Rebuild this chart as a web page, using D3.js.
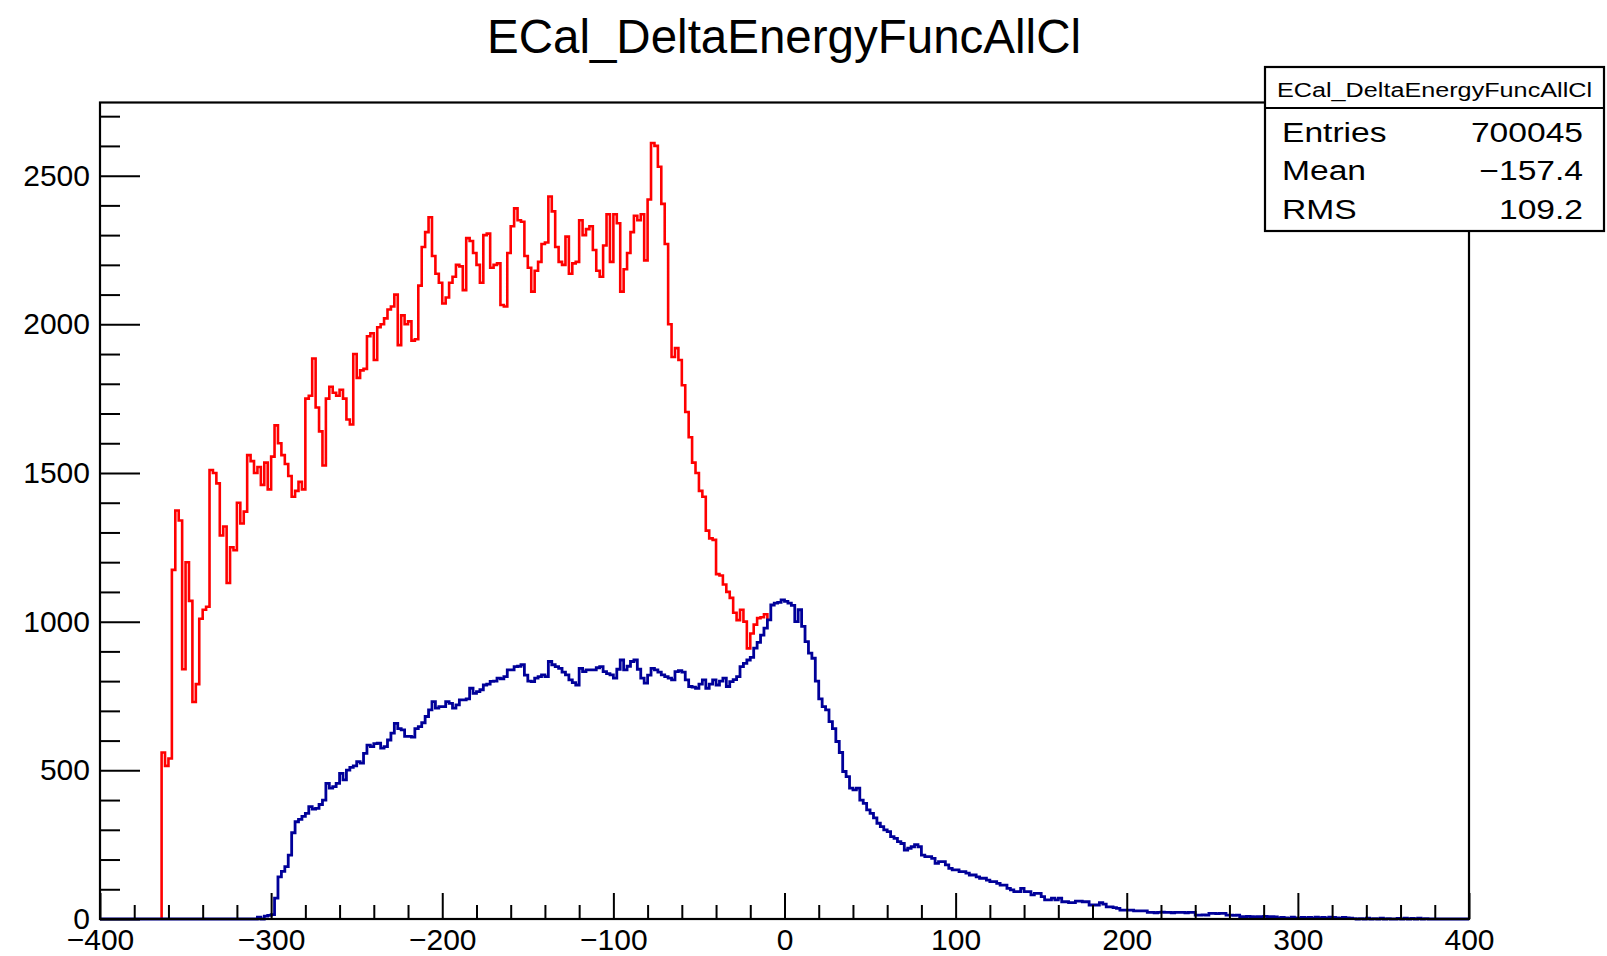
<!DOCTYPE html>
<html lang="en">

<head>
    <meta charset="UTF-8">
    <script src="https://cdn.jsdelivr.net/npm/d3@7"></script>
    <title>ECal_DeltaEnergyFuncAllCl</title>
    <style>
        body { margin: 0; background: #fff; }
        text { font-family: "Liberation Sans", Arial, Helvetica, sans-serif; fill: #000; }
    </style>
</head>

<body>
    <div id="chart"></div>
    <script>

        // histogram binning (2 units per bin)
        const binWidth = 2;
        const xDomain = [-400, 400];
        const yMax = 2746;

        // red histogram, first bin starts at -364
        const redStart = -364;
        const redCounts = [
            560, 515, 540, 1174, 1374, 1340, 840, 1200, 1070, 730,       // -364
            790, 1010, 1040, 1050, 1510, 1500, 1465, 1290, 1320, 1130,   // -344
            1250, 1240, 1400, 1330, 1370, 1560, 1540, 1500, 1520, 1460,  // -324
            1535, 1445, 1555, 1660, 1600, 1560, 1530, 1490, 1420, 1440,  // -304
            1470, 1445, 1750, 1760, 1885, 1720, 1640, 1525, 1750, 1790,  // -284
            1770, 1760, 1780, 1750, 1680, 1663, 1900, 1820, 1845, 1850,  // -264
            1960, 1970, 1880, 1990, 2000, 2020, 2050, 2060, 2100, 1930,  // -244
            2030, 2000, 2010, 1945, 1950, 2130, 2260, 2310, 2360, 2230,  // -224
            2170, 2140, 2070, 2090, 2140, 2160, 2200, 2195, 2115, 2290,  // -204
            2280, 2240, 2200, 2140, 2300, 2305, 2190, 2200, 2205, 2065,  // -184
            2060, 2240, 2330, 2390, 2350, 2345, 2230, 2190, 2110, 2180,  // -164
            2210, 2270, 2275, 2430, 2380, 2260, 2210, 2200, 2295, 2170,  // -144
            2205, 2210, 2350, 2300, 2320, 2330, 2250, 2180, 2160, 2265,  // -124
            2370, 2210, 2370, 2340, 2110, 2185, 2240, 2310, 2365, 2350,  // -104
            2370, 2215, 2420, 2610, 2600, 2530, 2405, 2270, 2000, 1890,  // -84
            1920, 1880, 1795, 1705, 1620, 1535, 1500, 1440, 1420, 1306,  // -64
            1280, 1275, 1160, 1155, 1125, 1100, 1080, 1030, 1005, 1040,  // -44
            1000, 910, 960, 990, 1012, 1015, 1025                        // -24
        ];

        // blue histogram, first bin starts at -310
        const blueStart = -310;
        const blueCounts = [
            0, 6, 0, 10, 12, 15, 70, 142, 160, 176,                // -310
            215, 290, 327, 335, 345, 355, 378, 370, 372, 385,      // -290
            400, 456, 440, 445, 456, 490, 468, 501, 510, 515,      // -270
            529, 524, 557, 585, 580, 590, 591, 575, 580, 602,      // -250
            625, 658, 640, 636, 614, 614, 612, 640, 647, 660,      // -230
            681, 703, 731, 709, 714, 714, 731, 725, 709, 720,      // -210
            737, 737, 740, 776, 759, 765, 771, 787, 790, 799,      // -190
            800, 810, 808, 815, 838, 838, 849, 850, 855, 820,      // -170
            800, 798, 810, 815, 821, 815, 866, 855, 849, 843,      // -150
            830, 821, 804, 795, 787, 843, 832, 838, 838, 838,      // -130
            845, 849, 832, 825, 821, 810, 840, 871, 838, 850,      // -110
            866, 871, 840, 810, 793, 820, 843, 838, 830, 821,      // -90
            815, 810, 804, 832, 835, 830, 804, 782, 780, 776,      // -70
            790, 804, 776, 790, 804, 787, 800, 810, 782, 798,      // -50
            805, 815, 849, 860, 871, 880, 911, 930, 955, 978,      // -30
            1006, 1056, 1062, 1065, 1073, 1068, 1062, 1055, 1000, 1040, // -10
            984, 933, 894, 877, 800, 740, 714, 703, 664, 640,      // 10
            597, 560, 496, 479, 440, 434, 440, 400, 389, 367,      // 30
            355, 340, 322, 311, 300, 294, 277, 271, 260, 254,      // 50
            232, 238, 243, 250, 243, 215, 210, 210, 204, 187,      // 70
            193, 193, 182, 170, 165, 165, 159, 159, 154, 148,      // 90
            148, 142, 137, 137, 131, 126, 126, 120, 114, 114,      // 110
            103, 98, 92, 92, 103, 92, 92, 81, 86, 86,              // 130
            75, 64, 64, 70, 64, 70, 58, 58, 55, 55,                // 150
            60, 60, 58, 58, 47, 47, 47, 55, 50, 41,                // 170
            41, 38, 36, 30, 30, 30, 30, 27, 27, 27,                // 190
            27, 22, 22, 21, 22, 23, 22, 22, 21, 22,                // 210
            22, 22, 21, 22, 22, 13, 13, 14, 13, 19,                // 230
            19, 18, 19, 19, 13, 13, 12, 13, 8, 8,                  // 250
            9, 8, 7, 8, 8, 9, 8, 8, 7, 3,                          // 270
            5, 4, 2, 6, 4, 3, 5, 4, 5, 3,                          // 290
            6, 4, 5, 2, 6, 5, 4, 3, 5, 4,                          // 310
            3, 1, 0, 1, 0, 3, 0, 1, 0, 3,                          // 330
            0, 1, 0, 0, 2, 0, 3, 0, 2, 0,                          // 350
            3, 0, 1, 0, 0                                          // 370
        ];

        // ticks
        const xMajorTicks = d3.range(-400, 401, 100);
        const xMinorTicks = d3.range(-400, 401, 20).filter(v => v % 100 !== 0);
        const yMajorTicks = [0, 500, 1000, 1500, 2000, 2500];
        const yMinorTicks = d3.range(100, 2701, 100).filter(v => v % 500 !== 0);

        const title = "ECal_DeltaEnergyFuncAllCl";
        const statLabels = ["Entries", "Mean", "RMS"];
        const statValues = ["700045", "\u2212157.4", "109.2"];

        const W = 1607, H = 956;
        const frame = { left: 100, right: 1469, top: 102.5, bottom: 919 };

        const svg = d3.select("#chart")
            .append("svg")
            .attr("width", W)
            .attr("height", H);

        svg.append("rect").attr("width", W).attr("height", H).attr("fill", "#fff");

        const x = d3.scaleLinear().domain(xDomain).range([frame.left, frame.right]);
        const y = d3.scaleLinear().domain([0, yMax]).range([frame.bottom, frame.top]);

        // step path for a histogram
        const stepPath = (start, counts, lead, tail) => {
            const p = d3.path();
            p.moveTo(x(lead[0]), y(lead[1]));
            p.lineTo(x(start), y(lead[1]));
            counts.forEach((c, i) => {
                const lo = start + i * binWidth;
                p.lineTo(x(lo), y(c));
                p.lineTo(x(lo + binWidth), y(c));
            });
            const end = start + counts.length * binWidth;
            p.lineTo(x(end), y(tail[1]));
            p.lineTo(x(tail[0]), y(tail[1]));
            return p.toString();
        };

        const redEnd = redStart + redCounts.length * binWidth;
        const blueAtRedEnd = blueCounts[(redEnd - blueStart) / binWidth];

        svg.append("path")
            .attr("d", stepPath(redStart, redCounts, [redStart, 0], [redEnd, blueAtRedEnd]))
            .attr("fill", "none")
            .attr("stroke", "#ff0000")
            .attr("stroke-width", 2.6);

        svg.append("path")
            .attr("d", stepPath(blueStart, blueCounts, [xDomain[0], 0], [xDomain[1], 0]))
            .attr("fill", "none")
            .attr("stroke", "#000099")
            .attr("stroke-width", 2.8);

        // axes: ROOT style ticks pointing into the frame
        const xAxis = svg.append("g")
            .attr("transform", `translate(0,${frame.bottom})`)
            .call(d3.axisBottom(x).tickValues(xMajorTicks).tickSize(-26).tickPadding(10))
            .call(g => g.select(".domain").remove());
        xAxis.selectAll("line").attr("stroke", "#000").attr("stroke-width", 2);
        xAxis.selectAll("text").attr("font-size", 30).attr("font-family", null);

        svg.append("g")
            .attr("transform", `translate(0,${frame.bottom})`)
            .call(d3.axisBottom(x).tickValues(xMinorTicks).tickSize(-14).tickFormat(""))
            .call(g => g.select(".domain").remove())
            .selectAll("line").attr("stroke", "#000").attr("stroke-width", 2);

        const yAxis = svg.append("g")
            .attr("transform", `translate(${frame.left},0)`)
            .call(d3.axisLeft(y).tickValues(yMajorTicks).tickSize(-40).tickPadding(10).tickFormat(d3.format("d")))
            .call(g => g.select(".domain").remove());
        yAxis.selectAll("line").attr("stroke", "#000").attr("stroke-width", 2);
        yAxis.selectAll("text").attr("font-size", 30).attr("font-family", null);

        svg.append("g")
            .attr("transform", `translate(${frame.left},0)`)
            .call(d3.axisLeft(y).tickValues(yMinorTicks).tickSize(-20).tickFormat(""))
            .call(g => g.select(".domain").remove())
            .selectAll("line").attr("stroke", "#000").attr("stroke-width", 2);

        // frame
        svg.append("rect")
            .attr("x", frame.left).attr("y", frame.top)
            .attr("width", frame.right - frame.left)
            .attr("height", frame.bottom - frame.top)
            .attr("fill", "none")
            .attr("stroke", "#000")
            .attr("stroke-width", 2.2);

        // title
        svg.append("text")
            .attr("x", 784).attr("y", 53)
            .attr("text-anchor", "middle")
            .attr("font-size", 47.5)
            .text(title);

        // stats box
        const box = { left: 1265, right: 1604, top: 67, header: 108, bottom: 231 };
        const stats = svg.append("g");
        stats.append("rect")
            .attr("x", box.left).attr("y", box.top)
            .attr("width", box.right - box.left)
            .attr("height", box.bottom - box.top)
            .attr("fill", "#fff")
            .attr("stroke", "#000")
            .attr("stroke-width", 2.2);
        stats.append("line")
            .attr("x1", box.left).attr("x2", box.right)
            .attr("y1", box.header).attr("y2", box.header)
            .attr("stroke", "#000").attr("stroke-width", 2);
        stats.append("text")
            .attr("transform", `translate(${(box.left + box.right) / 2},97) scale(1.2,1)`)
            .attr("text-anchor", "middle")
            .attr("font-size", 21)
            .attr("fill", "#333")
            .text(title);

        const rowBase = [142, 180, 219];
        statLabels.forEach((lab, i) => {
            stats.append("text")
                .attr("transform", `translate(${box.left + 17},${rowBase[i]}) scale(1.2,1)`)
                .attr("font-size", 28)
                .text(lab);
            stats.append("text")
                .attr("transform", `translate(${box.right - 21},${rowBase[i]}) scale(1.2,1)`)
                .attr("text-anchor", "end")
                .attr("font-size", 28)
                .text(statValues[i]);
        });

    </script>
</body>

</html>
